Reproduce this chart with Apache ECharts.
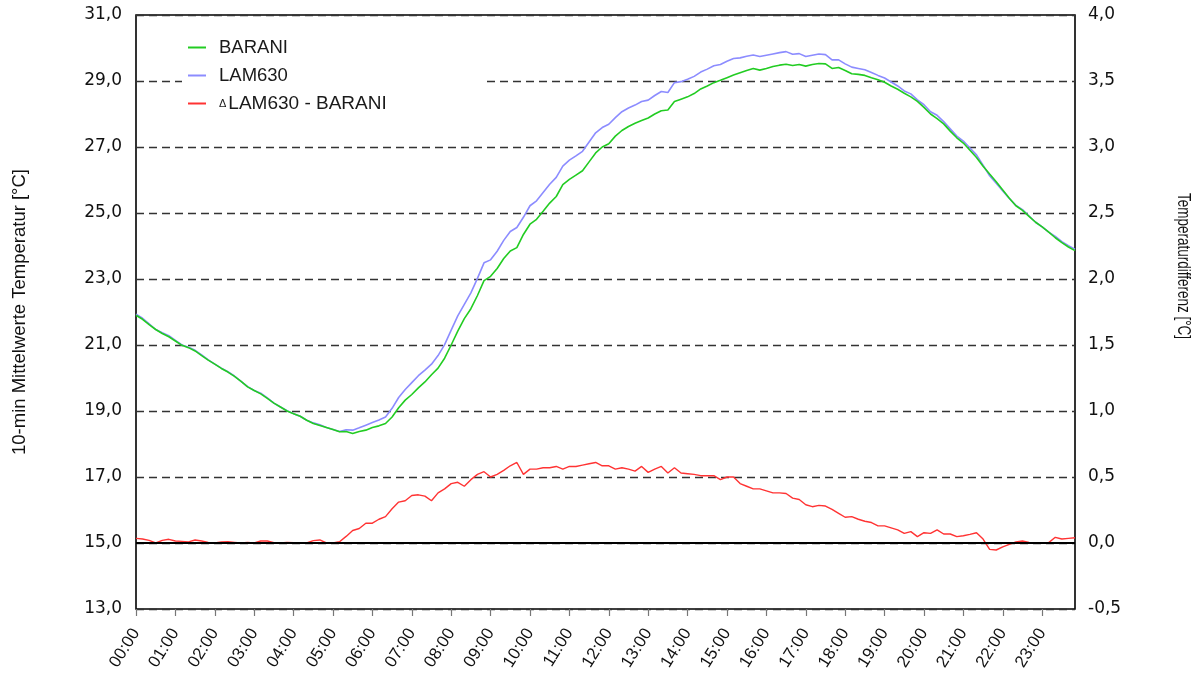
<!DOCTYPE html>
<html>
<head>
<meta charset="utf-8">
<script src="https://cdn.jsdelivr.net/npm/echarts@6/dist/echarts.min.js"></script>
<style>
html,body{margin:0;padding:0;background:#fff;}
#chart{width:1200px;height:679px;}
</style>
</head>
<body>
<div id="chart"></div>
<script>
// Time categories: 10-minute steps 00:00 .. 23:50
var categories = [];
for (var hh = 0; hh < 24; hh++) {
  for (var mm = 0; mm < 60; mm += 10) {
    categories.push((hh < 10 ? '0' : '') + hh + ':' + (mm === 0 ? '00' : mm));
  }
}

var seriesNames = ['BARANI', 'LAM630', 'Δ LAM630 - BARANI'];

// BARANI 10-min mean temperature [°C]
var barani = [
21.90,21.78,21.62,21.47,21.35,21.25,
21.12,20.99,20.92,20.82,20.68,20.54,
20.42,20.29,20.18,20.05,19.90,19.73,
19.62,19.52,19.38,19.24,19.12,19.00,
18.92,18.84,18.72,18.62,18.56,18.50,
18.44,18.37,18.38,18.32,18.38,18.42,
18.50,18.55,18.62,18.82,19.10,19.33,
19.50,19.70,19.88,20.10,20.30,20.60,
21.00,21.42,21.80,22.10,22.50,22.95,
23.08,23.32,23.62,23.85,23.95,24.35,
24.66,24.81,25.05,25.30,25.50,25.86,
26.02,26.15,26.28,26.55,26.82,27.00,
27.10,27.33,27.50,27.62,27.72,27.80,
27.88,28.00,28.10,28.12,28.38,28.45,
28.52,28.62,28.76,28.85,28.95,29.02,
29.10,29.18,29.25,29.32,29.38,29.33,
29.38,29.44,29.48,29.51,29.47,29.50,
29.45,29.50,29.53,29.52,29.38,29.41,
29.32,29.22,29.20,29.17,29.10,29.04,
28.96,28.85,28.75,28.63,28.52,28.38,
28.20,28.00,27.86,27.70,27.48,27.28,
27.12,26.90,26.68,26.42,26.18,25.95,
25.70,25.45,25.22,25.08,24.90,24.72,
24.58,24.42,24.25,24.10,23.97,23.86
];

// LAM630 10-min mean temperature [°C]
var lam630 = [
21.93,21.81,21.64,21.47,21.37,21.28,
21.14,21.00,20.93,20.84,20.70,20.55,
20.42,20.30,20.19,20.06,19.90,19.74,
19.62,19.54,19.40,19.24,19.12,19.01,
18.92,18.84,18.72,18.64,18.58,18.50,
18.44,18.38,18.43,18.42,18.49,18.57,
18.65,18.73,18.82,19.08,19.41,19.65,
19.86,20.07,20.24,20.42,20.68,21.01,
21.45,21.88,22.23,22.58,23.02,23.49,
23.58,23.84,24.17,24.44,24.56,24.87,
25.22,25.37,25.62,25.87,26.08,26.42,
26.60,26.73,26.87,27.15,27.43,27.59,
27.69,27.89,28.07,28.18,28.27,28.38,
28.42,28.56,28.68,28.65,28.95,28.98,
29.05,29.14,29.27,29.36,29.46,29.50,
29.60,29.68,29.70,29.75,29.79,29.74,
29.78,29.82,29.86,29.89,29.81,29.83,
29.74,29.78,29.82,29.80,29.64,29.64,
29.52,29.42,29.38,29.34,29.26,29.17,
29.09,28.97,28.85,28.70,28.61,28.43,
28.28,28.07,27.96,27.77,27.55,27.33,
27.18,26.97,26.76,26.45,26.13,25.90,
25.67,25.44,25.23,25.10,24.91,24.72,
24.58,24.42,24.29,24.13,24.01,23.90
];

// Difference LAM630 - BARANI [°C] (right axis)
var delta = [
0.035,0.030,0.020,0.000,0.020,0.028,
0.015,0.012,0.008,0.023,0.015,0.005,
0.000,0.008,0.010,0.005,0.000,0.005,
0.000,0.015,0.015,0.003,0.000,0.005,
0.003,0.000,0.000,0.018,0.023,0.000,
0.000,0.010,0.050,0.095,0.110,0.150,
0.150,0.180,0.200,0.260,0.310,0.320,
0.360,0.365,0.355,0.320,0.380,0.410,
0.450,0.460,0.430,0.480,0.520,0.540,
0.500,0.520,0.550,0.585,0.610,0.520,
0.560,0.560,0.570,0.570,0.580,0.560,
0.580,0.580,0.590,0.600,0.610,0.585,
0.585,0.560,0.570,0.560,0.545,0.580,
0.535,0.560,0.580,0.530,0.570,0.530,
0.525,0.520,0.510,0.510,0.510,0.480,
0.500,0.500,0.450,0.430,0.410,0.410,
0.395,0.380,0.380,0.375,0.340,0.330,
0.290,0.275,0.285,0.280,0.255,0.225,
0.195,0.200,0.180,0.165,0.155,0.130,
0.130,0.115,0.100,0.073,0.086,0.048,
0.078,0.073,0.100,0.068,0.068,0.048,
0.055,0.065,0.078,0.030,-0.048,-0.053,
-0.030,-0.010,0.008,0.015,0.005,0.000,
0.000,0.003,0.043,0.030,0.035,0.040
];

var leftTicks = {min: 13, max: 31, interval: 2};
var rightTicks = {min: -0.5, max: 4.0, interval: 0.5};

var FONT = '"Liberation Sans", Arial, sans-serif';
var WIDE = '"DejaVu Sans", "Liberation Sans", sans-serif';
function comma(v) { return v.toFixed(1).replace('.', ','); }

var chart = echarts.init(document.getElementById('chart'), null, {renderer: 'canvas'});
chart.setOption({
  animation: false,
  backgroundColor: '#fff',
  textStyle: {fontFamily: FONT},
  grid: {left: 136, right: 125, top: 15, bottom: 70, show: true, borderColor: '#000', borderWidth: 1.6, backgroundColor: 'transparent'},
  legend: {
    orient: 'vertical',
    left: 182,
    top: 30,
    data: seriesNames,
    selectedMode: false,
    backgroundColor: '#fff',
    padding: [8, 100, 8, 6],
    icon: 'rect',
    itemWidth: 18,
    itemHeight: 2,
    itemGap: 9,
    textStyle: {
      fontFamily: FONT, fontSize: 18.5, color: '#1a1a1a', lineHeight: 19, padding: [0, 0, 0, 8],
      rich: {
        d: {fontSize: 11, fontFamily: FONT, color: '#1a1a1a', padding: [0, 2, 0, 0]},
        n: {fontSize: 19, fontFamily: FONT, color: '#1a1a1a'}
      }
    },
    formatter: function (name) {
      if (name.charAt(0) === 'Δ') return '{d|Δ}{n|' + name.slice(2) + '}';
      return name;
    }
  },
  xAxis: {
    type: 'category',
    data: categories,
    boundaryGap: false,
    axisLine: {show: false, onZero: false},
    axisTick: {show: true, interval: 5, length: 7, lineStyle: {color: '#777', width: 1.2}},
    axisLabel: {
      interval: 5, rotate: 58, fontSize: 17, color: '#111', fontFamily: FONT, margin: 21
    },
    splitLine: {show: false}
  },
  yAxis: [
    {
      type: 'value',
      min: leftTicks.min, max: leftTicks.max, interval: leftTicks.interval,
      name: '10-min Mittelwerte Temperatur [°C]',
      nameLocation: 'middle',
      nameGap: 107,
      nameTextStyle: {fontSize: 18.5, color: '#111', fontFamily: FONT},
      axisLine: {show: false},
      axisTick: {show: false},
      axisLabel: {fontSize: 17, color: '#111', margin: 14, fontFamily: WIDE, formatter: comma},
      splitLine: {show: true, lineStyle: {color: '#333', width: 1.4, type: [8, 5]}}
    },
    {
      type: 'value',
      min: rightTicks.min, max: rightTicks.max, interval: rightTicks.interval,
      axisLine: {show: false},
      axisTick: {show: false},
      axisLabel: {fontSize: 17, color: '#111', margin: 13, fontFamily: WIDE, formatter: comma},
      splitLine: {show: false}
    }
  ],
  graphic: [{
    type: 'text',
    x: 1183, y: 266,
    rotation: -Math.PI / 2,
    scaleY: 1.35,
    style: {text: 'Temperaturdifferenz [°C]', fontSize: 13.5, fontFamily: FONT, fill: '#111', align: 'center', verticalAlign: 'middle'}
  }],
  series: [
    {
      name: seriesNames[0], type: 'line', data: barani, yAxisIndex: 0,
      symbol: 'none', lineStyle: {color: '#22cc22', width: 1.6}, itemStyle: {color: '#22cc22'}, z: 4
    },
    {
      name: seriesNames[1], type: 'line', data: lam630, yAxisIndex: 0,
      symbol: 'none', lineStyle: {color: '#8c8cff', width: 1.6}, itemStyle: {color: '#8c8cff'}, z: 3
    },
    {
      name: seriesNames[2], type: 'line', data: delta, yAxisIndex: 1,
      symbol: 'none', lineStyle: {color: '#ff3333', width: 1.4}, itemStyle: {color: '#ff3333'}, z: 3,
      markLine: {
        silent: true, symbol: 'none', label: {show: false},
        lineStyle: {color: '#000', width: 2, type: 'solid'},
        data: [{yAxis: 0}]
      }
    }
  ]
});
</script>
</body>
</html>
